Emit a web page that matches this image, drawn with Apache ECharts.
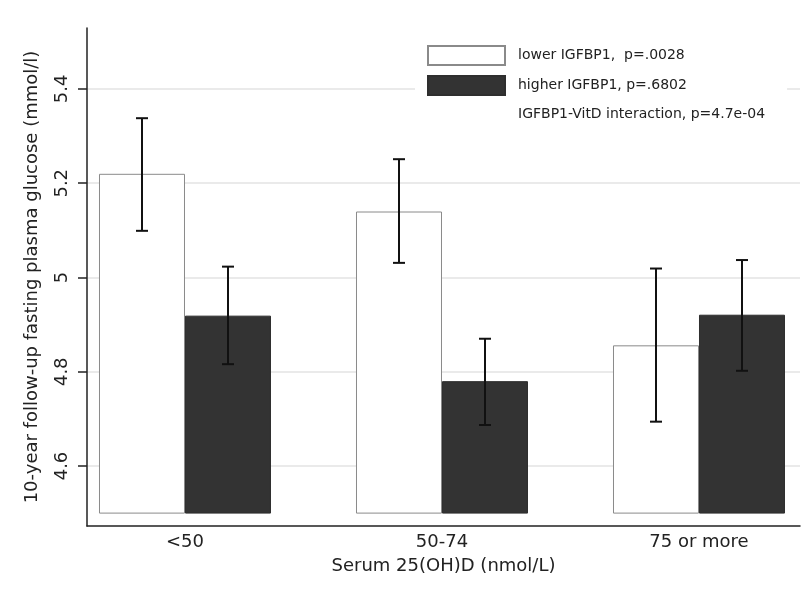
<!DOCTYPE html>
<html>
<head>
<meta charset="utf-8">
<script src="https://cdn.jsdelivr.net/npm/echarts@6/dist/echarts.min.js"></script>
<style>
html,body{margin:0;padding:0;background:#fff;}
#chart{width:807px;height:591px;}
</style>
</head>
<body>
<div id="chart"></div>
<script>
// ---- data ----
const categories = ['<50', '50-74', '75 or more'];
const seriesNames = ['lower IGFBP1,  p=.0028', 'higher IGFBP1, p=.6802'];
const noteText = 'IGFBP1-VitD interaction, p=4.7e-04';
const lowerMean = [5.220, 5.140, 4.856];
const lowerLo = [5.099, 5.031, 4.694];
const lowerHi = [5.338, 5.251, 5.019];
const higherMean = [4.919, 4.780, 4.921];
const higherLo = [4.816, 4.687, 4.802];
const higherHi = [5.023, 4.870, 5.037];
const yTicks = [4.6, 4.8, 5, 5.2, 5.4];
const yTitle = '10-year follow-up fasting plasma glucose (mmol/l)';
const xTitle = 'Serum 25(OH)D (nmol/L)';

// ---- layout ----
const FONT = 'DejaVu Sans';
const BAR_W = 86;
const Y_MAX = 5.5294, Y_MIN_AXIS = 4.4727, BAR_BASE = 4.5;
const X_MIN = -0.3813, X_MAX = 2.393;
const catIdx = categories.map((c, i) => i);

function errSeries(lo, hi, offset) {
  return {
    type: 'custom',
    xAxisIndex: 1, yAxisIndex: 1,
    z: 5,
    silent: true,
    clip: false,
    data: categories.map((c, i) => [i, lo[i], hi[i]]),
    encode: { x: 0, y: [1, 2] },
    renderItem: function (params, api) {
      const pLo = api.coord([api.value(0), api.value(1)]);
      const pHi = api.coord([api.value(0), api.value(2)]);
      const x = pLo[0] + offset;
      const cap = 6;
      const style = { stroke: '#111', lineWidth: 2 };
      return {
        type: 'group',
        children: [
          { type: 'line', shape: { x1: x, y1: pLo[1], x2: x, y2: pHi[1] }, style: style },
          { type: 'line', shape: { x1: x - cap, y1: pLo[1], x2: x + cap, y2: pLo[1] }, style: style },
          { type: 'line', shape: { x1: x - cap, y1: pHi[1], x2: x + cap, y2: pHi[1] }, style: style }
        ]
      };
    }
  };
}

const chart = echarts.init(document.getElementById('chart'), null, { renderer: 'canvas' });
chart.setOption({
  backgroundColor: '#ffffff',
  animation: false,
  textStyle: { fontFamily: FONT },
  grid: [
    { left: 87, right: 7, top: 28, bottom: 65 },
    { left: 87, right: 7, top: 28, bottom: 77.9 }
  ],
  legend: {
    orient: 'vertical',
    left: 415, top: 35,
    padding: [10, 22, 10, 12],
    backgroundColor: '#ffffff',
    itemWidth: 77, itemHeight: 19, itemGap: 9,
    selectedMode: false,
    textStyle: { fontFamily: FONT, fontSize: 14, color: '#222', padding: [0, 0, 0, 8] },
    data: [
      { name: seriesNames[0], icon: 'rect' },
      { name: seriesNames[1], icon: 'rect' },
      { name: noteText, icon: 'rect', itemStyle: { opacity: 0 }, lineStyle: { opacity: 0 } }
    ]
  },
  xAxis: [
    {
      gridIndex: 0, type: 'value', min: 0, max: 1,
      axisLine: { show: true, lineStyle: { color: '#222', width: 1.5 } },
      axisTick: { show: false }, axisLabel: { show: false }, splitLine: { show: false }
    },
    {
      gridIndex: 1, type: 'value', min: X_MIN, max: X_MAX,
      axisLine: { show: false }, axisTick: { show: false }, splitLine: { show: false },
      axisLabel: {
        customValues: catIdx,
        formatter: function (v) { return categories[Math.round(v)] || ''; },
        fontFamily: FONT, fontSize: 18, color: '#222', margin: 20
      },
      name: xTitle, nameLocation: 'middle', nameGap: 44,
      nameTextStyle: { fontFamily: FONT, fontSize: 18, color: '#222' }
    }
  ],
  yAxis: [
    {
      gridIndex: 0, type: 'value', min: Y_MIN_AXIS, max: Y_MAX,
      axisLine: { show: true, lineStyle: { color: '#222', width: 1.5 } },
      axisTick: { show: true, length: 9, customValues: yTicks, lineStyle: { color: '#222', width: 1.5 } },
      axisLabel: { customValues: yTicks, rotate: 90, fontFamily: FONT, fontSize: 18, color: '#222', margin: 16 },
      splitLine: { show: true, lineStyle: { color: '#eaeaea', width: 2 } },
      name: yTitle, nameLocation: 'middle', nameGap: 46, nameRotate: 90,
      nameTextStyle: { fontFamily: FONT, fontSize: 18, color: '#222' }
    },
    {
      gridIndex: 1, type: 'value', min: BAR_BASE, max: Y_MAX, show: false
    }
  ],
  series: [
    {
      name: seriesNames[0], type: 'bar', xAxisIndex: 1, yAxisIndex: 1,
      barWidth: BAR_W, barGap: '0%', z: 3,
      itemStyle: { color: '#ffffff', borderColor: '#8a8a8a', borderWidth: 1 },
      data: lowerMean.map((v, i) => [i, v])
    },
    {
      name: seriesNames[1], type: 'bar', xAxisIndex: 1, yAxisIndex: 1,
      barWidth: BAR_W, barGap: '0%', z: 3,
      itemStyle: { color: '#333333', borderColor: '#2e2e2e', borderWidth: 1 },
      data: higherMean.map((v, i) => [i, v])
    },
    {
      name: noteText, type: 'line', xAxisIndex: 1, yAxisIndex: 1, data: []
    },
    errSeries(lowerLo, lowerHi, -BAR_W / 2),
    errSeries(higherLo, higherHi, BAR_W / 2)
  ]
});
</script>
</body>
</html>
